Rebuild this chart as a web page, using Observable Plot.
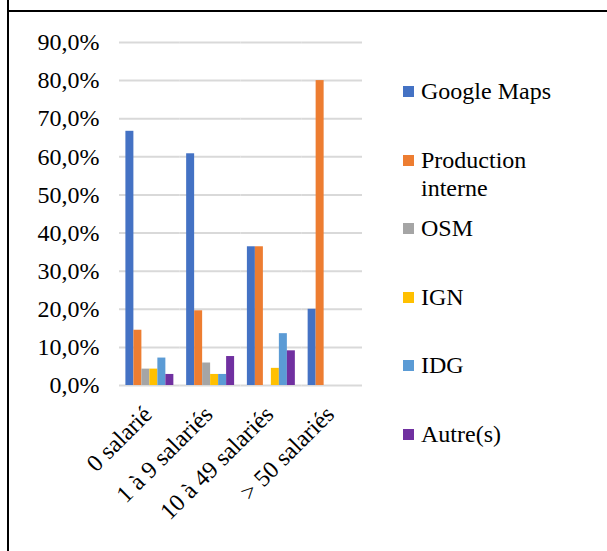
<!DOCTYPE html>
<html>
<head>
<meta charset="utf-8">
<script src="https://cdn.jsdelivr.net/npm/d3@7"></script>
<script src="https://cdn.jsdelivr.net/npm/@observablehq/plot@0.6"></script>
<style>
  body { margin: 0; background: #fff; }
  #wrap { position: relative; width: 607px; height: 551px; overflow: hidden; background: #fff; font-family: "Liberation Serif", "Times New Roman", serif; }
  #chart { position: absolute; left: 0; top: 0; }
  .vline { position: absolute; left: 7px; top: 0; width: 2px; height: 551px; background: #000; }
  .hline { position: absolute; left: 7px; top: 10px; width: 600px; height: 2px; background: #000; }
  .leg { position: absolute; left: 403px; width: 180px; font-size: 24px; line-height: 28px; color: #000; }
  .leg .sw { position: absolute; left: 0; top: 9px; width: 11px; height: 11px; }
  .leg .tx { position: absolute; left: 18px; top: 0; width: 150px; }
</style>
</head>
<body>
<div id="wrap">
  <div id="chart"></div>
  <div class="vline"></div>
  <div class="hline"></div>
</div>
<script>
const categories = ["0 salarié", "1 à 9 salariés", "10 à 49 salariés", "> 50 salariés"];
const series = ["Google Maps", "Production interne", "OSM", "IGN", "IDG", "Autre(s)"];
const colors = ["#4472C4", "#ED7D31", "#A5A5A5", "#FFC000", "#5B9BD5", "#7030A0"];
const googleMaps = [66.7, 60.8, 36.4, 20.0];
const productionInterne = [14.5, 19.6, 36.4, 80.0];
const osm = [4.3, 5.9, 0, 0];
const ign = [4.3, 2.9, 4.5, 0];
const idg = [7.2, 2.9, 13.6, 0];
const autres = [2.9, 7.6, 9.1, 0];
const yTicks = [0, 10, 20, 30, 40, 50, 60, 70, 80, 90];

const seriesValues = [googleMaps, productionInterne, osm, ign, idg, autres];
const data = [];
categories.forEach((c, ci) => {
  series.forEach((s, si) => {
    data.push({category: c, series: s, value: seriesValues[si][ci]});
  });
});

const fmt = d => d.toFixed(1).replace(".", ",") + "%";

const hasAxisMarks = typeof Plot.axisFx === "function";
const marks = [
  Plot.ruleY(yTicks, {stroke: "#d9d9d9", strokeWidth: 2}),
  Plot.barY(data, {fx: "category", x: "series", y: "value", fill: "series", inset: 0})
];
if (hasAxisMarks) {
  marks.push(Plot.axisFx({anchor: "bottom", tickRotate: -45, tickSize: 0, tickPadding: 12, dx: -2, dy: 13, label: null}));
}

const chart = Plot.plot({
  width: 400,
  height: 551,
  marginLeft: 119,
  marginRight: 38,
  marginTop: 42,
  marginBottom: 166,
  style: {fontFamily: "'Liberation Serif', serif", fontSize: "24px", color: "#000", background: "transparent"},
  fx: hasAxisMarks
    ? {domain: categories, padding: 0, round: false, label: null, axis: null}
    : {domain: categories, padding: 0, round: false, label: null, tickSize: 0, tickRotate: -45, tickPadding: 24},
  x: {domain: series, axis: null, round: false, paddingInner: 0, paddingOuter: 0.8},
  y: {domain: [0, 90], ticks: yTicks, tickFormat: fmt, label: null, tickSize: 0, tickPadding: 20},
  color: {domain: series, range: colors},
  marks
});
document.getElementById("chart").appendChild(chart);

const wrap = document.getElementById("wrap");
series.forEach((s, i) => {
  const d = document.createElement("div");
  d.className = "leg";
  d.style.top = (91 + i * 68.6 - 14) + "px";
  const sw = document.createElement("div");
  sw.className = "sw";
  sw.style.background = colors[i];
  const tx = document.createElement("div");
  tx.className = "tx";
  tx.textContent = s;
  d.appendChild(sw);
  d.appendChild(tx);
  wrap.appendChild(d);
});
</script>
</body>
</html>
